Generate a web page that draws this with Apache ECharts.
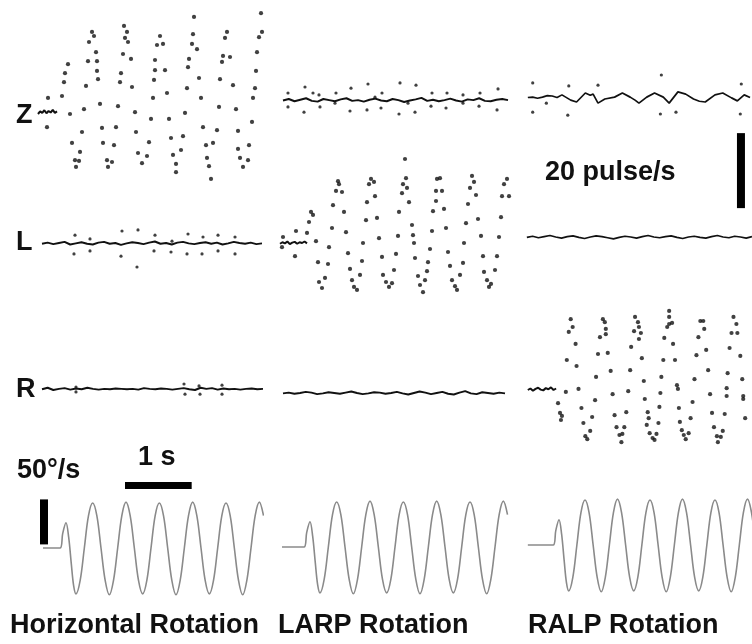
<!DOCTYPE html>
<html>
<head>
<meta charset="utf-8">
<script src="https://cdn.jsdelivr.net/npm/echarts@6/dist/echarts.min.js"></script>
<style>
html, body { margin: 0; padding: 0; background: #fff; }
#chart { width: 752px; height: 644px; }
</style>
</head>
<body>
<div id="chart"></div>
<script>
// ---- data: time in s, firing rate in pulse/s, head velocity in deg/s ----

// Z afferent, horizontal rotation (modulated)
var zBase1 = [21.6, 22.3, 21.9, 22.6, 21.8, 22.4, 22.0, 22.7, 21.9, 22.3];
var zDots1 = [[0.075,25.9],[0.06,18.1],[0.285,26.4],[0.315,30.1],[0.33,32.5],[0.375,34.9],[0.405,21.6],[0.435,13.9],
  [0.555,11.5],[0.48,9.3],[0.54,9.1],[0.495,7.5],[0.585,16.8],[0.615,22.9],[0.645,29.1],[0.675,35.7],[0.69,40.8],
  [0.735,43.5],[0.765,42.4],[0.795,38.1],[0.81,35.7],[0.81,33.1],[0.825,30.9],[0.855,24.3],[0.885,17.9],[0.9,13.9],
  [0.96,9.3],[0.975,7.5],[1.035,8.8],[1.065,13.3],[1.095,18.1],[1.125,23.7],[1.155,30.1],[1.17,32.5],[1.2,37.6],
  [1.23,41.9],[1.215,45.1],[1.26,43.5],[1.275,40.8],[1.32,36.3],[1.335,28.8],[1.38,22.1],[1.395,16.8],[1.425,11.2],
  [1.485,8.5],[1.56,10.4],[1.59,14.1],[1.62,20.3],[1.65,25.9],[1.665,30.7],[1.68,33.3],[1.68,36.0],[1.71,40.0],
  [1.755,42.4],[1.8,40.3],[1.83,33.3],[1.86,27.2],[1.89,20.3],[1.92,15.2],[1.95,10.7],[1.995,8.3],[1.995,6.1],
  [2.07,12.0],[2.1,15.7],[2.13,21.9],[2.16,28.5],[2.175,34.1],[2.19,36.3],[2.235,40.3],[2.25,42.9],[2.265,47.5],
  [2.31,38.9],[2.34,31.2],[2.37,25.9],[2.4,18.1],[2.445,13.3],[2.46,9.9],[2.49,7.7],[2.52,4.3],[2.55,13.9],
  [2.61,17.3],[2.64,23.5],[2.655,30.9],[2.685,35.5],[2.7,37.1],[2.73,41.9],[2.76,43.5],[2.805,36.8],[2.85,29.3],
  [2.895,22.9],[2.925,17.1],[2.925,12.3],[2.955,9.9],[3.0,7.5],[3.075,9.3],[3.09,13.3],[3.135,19.5],[3.15,25.9],
  [3.18,28.5],[3.195,33.1],[3.21,38.1],[3.24,42.1],[3.27,48.5],[3.285,43.5]];

// Z afferent, LARP rotation (flat)
var zFlat2 = [25.2,25.6,25.0,25.4,25.8,25.1,24.9,25.6,25.3,25.0,25.5,25.8,25.1,25.3,24.9,25.4,25.7,25.2,25.0,25.6,
  25.3,24.8,25.2,25.5,25.9,25.1,25.4,25.0,25.3,25.7,25.2,24.9,25.5,25.3,25.8,25.1,25.0,25.4,25.6,25.3];
var zOut2 = [[0.09,27.2],[0.09,23.5],[0.345,28.8],[0.33,22.1],[0.465,27.2],[0.555,26.7],[0.57,23.5],[0.81,27.2],
  [0.795,24.5],[1.035,28.5],[1.02,22.4],[1.29,29.6],[1.275,22.7],[1.395,26.1],[1.5,27.2],[1.485,23.2],[1.77,29.9],
  [1.755,21.6],[1.89,24.5],[2.01,29.3],[1.995,22.1],[2.25,27.2],[2.235,23.7],[2.475,27.2],[2.46,23.2],[2.715,26.7],
  [2.715,24.5],[2.97,27.2],[2.955,23.7],[3.24,28.3],[3.225,22.7]];

// Z afferent, RALP rotation (small modulation)
var zLine3 = [[0.0,26.0],[0.075,26.1],[0.15,25.8],[0.225,26.1],[0.3,26.5],[0.375,26.4],[0.45,26.0],[0.525,26.7],
  [0.66,25.3],[0.75,24.8],[0.885,27.2],[0.96,26.6],[1.005,26.9],[1.08,24.5],[1.185,25.6],[1.335,26.1],[1.455,27.2],
  [1.575,26.1],[1.65,25.3],[1.71,24.5],[1.83,26.1],[1.95,27.2],[2.085,26.1],[2.175,24.5],[2.31,27.5],[2.43,26.9],
  [2.55,25.6],[2.64,25.0],[2.73,24.8],[2.88,26.7],[3.0,27.2],[3.135,25.9],[3.225,25.1],[3.33,26.7],[3.42,26.0]];
var zOut3 = [[0.075,29.9],[0.075,22.1],[0.285,24.5],[0.63,29.1],[0.615,21.3],[1.08,29.3],[2.055,32.0],[2.04,21.6],
  [2.28,22.1],[3.285,29.6],[3.27,21.6]];

// L afferent
var lFlat1 = [15.0,15.3,14.9,15.2,15.5,14.8,15.1,15.4,15.0,14.8,15.3,15.5,15.0,15.2,14.7,15.1,15.4,15.2,14.9,15.3,
  15.6,15.0,15.2,14.8,15.3,15.5,15.1,14.9,15.2,15.4,15.0,15.3,14.8,15.1,15.5,15.2,15.0,15.3,14.9,15.1];
var lOut1 = [[0.48,17.3],[0.465,12.3],[0.705,16.3],[0.705,13.1],[1.185,18.4],[1.17,11.7],[1.425,18.7],[1.41,8.8],
  [1.68,17.3],[1.665,13.1],[1.935,15.7],[1.92,12.8],[2.175,17.6],[2.16,12.3],[2.4,16.8],[2.385,12.3],[2.625,17.3],
  [2.625,13.1],[2.88,16.8],[2.88,12.3]];
var lBase2 = [15.0,15.4,15.1,15.6,14.9,15.3,15.5,15.0,15.4,15.2,15.6,15.1];
var lDots2 = [[0.015,16.8],[0.0,14.1],[0.21,18.4],[0.195,11.7],[0.375,17.9],[0.405,20.8],[0.435,23.5],[0.465,22.7],
  [0.51,15.7],[0.54,10.1],[0.555,4.8],[0.6,3.2],[0.645,5.9],[0.69,9.6],[0.705,14.1],[0.75,19.2],[0.765,25.3],
  [0.81,29.1],[0.84,31.7],[0.855,30.9],[0.9,28.8],[0.93,23.5],[0.96,18.1],[0.99,12.5],[1.02,8.3],[1.05,5.3],
  [1.08,3.5],[1.125,2.7],[1.17,6.7],[1.2,10.4],[1.215,15.2],[1.26,21.3],[1.275,26.1],[1.305,30.9],[1.335,32.3],
  [1.38,31.5],[1.395,27.7],[1.425,21.9],[1.455,16.5],[1.5,11.5],[1.515,6.7],[1.56,4.8],[1.605,3.5],[1.65,4.5],
  [1.68,8.0],[1.71,12.3],[1.74,17.1],[1.755,23.5],[1.8,28.5],[1.815,30.9],[1.86,32.5],[1.845,37.6],[1.875,29.9],
  [1.905,26.1],[1.95,20.0],[1.965,17.3],[1.98,15.2],[1.995,11.2],[2.04,6.4],[2.07,4.0],[2.115,2.1],[2.145,5.3],
  [2.175,7.7],[2.19,10.1],[2.22,13.6],[2.25,18.4],[2.265,23.7],[2.31,26.4],[2.31,29.1],[2.325,32.3],[2.37,32.5],
  [2.4,29.1],[2.43,24.3],[2.46,19.2],[2.49,12.8],[2.52,9.1],[2.55,5.3],[2.595,3.7],[2.625,2.7],[2.67,6.7],
  [2.715,9.9],[2.73,15.2],[2.76,20.5],[2.79,25.6],[2.82,29.9],[2.85,33.1],[2.88,31.5],[2.91,28.0],[2.94,21.6],
  [2.985,17.1],[3.015,11.7],[3.03,7.5],[3.075,5.3],[3.105,3.5],[3.135,4.3],[3.195,8.0],[3.225,11.7],[3.255,16.8],
  [3.285,22.1],[3.3,27.7],[3.33,30.9],[3.375,32.3],[3.405,27.7]];
var lFlat3 = [16.7,17.0,16.6,16.9,17.2,16.8,16.5,16.9,17.1,16.7,16.4,16.8,17.1,16.9,16.6,16.3,16.7,17.0,16.8,16.5,
  16.9,17.2,16.8,16.6,16.9,17.1,16.7,16.4,16.8,17.0,16.7,16.5,16.9,17.2,16.8,16.6,17.0,16.8,16.5,16.9];

// R afferent
var rFlat1 = [16.2,16.6,16.0,16.3,16.5,16.1,16.4,16.2,16.6,16.3,16.1,16.3,16.2,16.4,16.3,16.2,16.3,16.1,16.5,16.3,
  16.2,16.4,16.3,16.1,16.3,16.5,16.2,16.0,16.6,16.3,16.5,16.1,16.4,16.2,16.3,16.1,16.3,16.4,16.2,16.3];
var rOut1 = [[0.495,16.8],[0.495,15.5],[2.115,17.6],[2.13,14.9],[2.34,17.1],[2.355,14.9],[2.685,17.3],[2.685,14.9]];
var rFlat2 = [15.1,15.3,15.0,15.2,15.5,15.3,14.9,15.1,15.4,15.2,15.0,15.3,15.6,15.2,14.9,15.1,15.4,15.3,15.0,15.2,
  15.5,15.1,14.8,15.2,15.6,15.3,14.9,15.2,15.5,15.0,14.8,15.3,15.7,15.1,14.9,15.4,15.2,15.0,15.3,15.1];
var rBase3 = [16.0,16.4,15.8,16.3,16.6,16.1,15.9,16.5,16.2,16.7,16.0,16.4];
var rDots3 = [[0.465,12.5],[0.495,9.9],[0.525,9.1],[0.51,8.0],[0.585,15.5],[0.6,24.0],[0.63,31.5],[0.66,34.9],
  [0.69,32.8],[0.735,28.3],[0.75,22.4],[0.78,16.3],[0.825,11.2],[0.855,7.2],[0.885,3.7],[0.915,2.9],[0.96,5.1],
  [0.99,8.8],[1.035,13.3],[1.05,19.5],[1.08,25.6],[1.11,30.1],[1.155,34.9],[1.185,34.1],[1.2,32.3],[1.2,30.9],
  [1.23,25.9],[1.275,21.1],[1.305,14.9],[1.335,9.3],[1.365,6.1],[1.41,4.0],[1.44,2.1],[1.455,4.3],[1.485,6.1],
  [1.515,10.1],[1.545,15.7],[1.575,21.3],[1.59,27.5],[1.635,31.7],[1.65,35.5],[1.695,34.1],[1.71,32.8],[1.74,31.2],
  [1.71,29.6],[1.755,24.5],[1.785,18.4],[1.8,13.6],[1.845,10.1],[1.86,8.5],[1.83,6.7],[1.875,4.5],[1.92,3.2],
  [1.95,2.7],[1.98,4.3],[2.01,7.2],[2.025,11.5],[2.04,15.2],[2.055,19.5],[2.085,24.0],[2.1,29.9],[2.145,32.8],
  [2.175,33.6],[2.22,33.9],[2.175,35.5],[2.175,37.1],[2.235,28.3],[2.265,24.0],[2.295,17.3],[2.31,16.3],[2.325,11.2],
  [2.34,7.5],[2.37,5.3],[2.4,4.0],[2.43,2.9],[2.475,4.5],[2.505,8.5],[2.535,12.8],[2.565,18.9],[2.595,25.3],
  [2.625,30.1],[2.655,34.4],[2.7,34.4],[2.715,32.3],[2.745,26.7],[2.775,21.3],[2.805,14.9],[2.835,9.9],[2.865,6.1],
  [2.91,3.7],[2.925,2.1],[2.97,3.5],[3.0,5.1],[3.03,9.6],[3.06,14.4],[3.06,16.5],[3.075,20.5],[3.105,27.2],
  [3.135,31.2],[3.165,35.5],[3.21,33.6],[3.225,31.2],[3.27,25.1],[3.3,18.9],[3.315,14.4],[3.315,13.6],[3.345,8.5]];

// head velocity stimulus (time relative to first trough)
var bumpT = [-0.24, -0.2, -0.15, -0.11, -0.07, -0.035];
var bumpV = [0, 16, 28, 12, -18, -42];
var cycleStep = 0.0625;
var cycleV = [-51,-36,0,36,50,36,0,-36, -52,-36,0,36,51,36,0,-36, -51,-36,0,36,50,36,0,-36,
  -52,-36,0,36,51,36,0,-36, -51,-36,0,36,50,36,0,-36, -52,-36,0,36,51,36,0];
var firstTrough = [0.495, 0.57, 0.63];
var stimEnd = [3.25, 3.34, 3.45];

var rowNames = ['Z', 'L', 'R'];
var colNames = ['Horizontal Rotation', 'LARP Rotation', 'RALP Rotation'];
var scaleRate = 20, scaleDeg = 50, scaleSec = 1;

// ---- layout ----
var PX_S = 66.67, PX_RATE = 3.75, PX_DEG = 0.9;
var colX0 = [43, 282, 528];
var T_MIN = -0.1, tMax = [3.29, 3.42, 3.45];
var rowY0 = [195, 300, 450], rowMax = [52, 40, 40];
var stimY0 = [548, 547, 545];

function buildGrids() {
    var grids = [], xAxes = [], yAxes = [];
    for (var r = 0; r < 4; r++) {
        for (var c = 0; c < 3; c++) {
            var gTop, gH, ymin, ymax;
            if (r < 3) { ymin = 0; ymax = rowMax[r]; gH = ymax * PX_RATE; gTop = rowY0[r] - gH; }
            else { ymin = -60; ymax = 60; gH = 120 * PX_DEG; gTop = stimY0[c] - 60 * PX_DEG; }
            grids.push({ left: colX0[c] + T_MIN * PX_S, top: gTop, width: (tMax[c] - T_MIN) * PX_S, height: gH });
            var gi = grids.length - 1;
            xAxes.push({ type: 'value', gridIndex: gi, min: T_MIN, max: tMax[c], show: false });
            yAxes.push({ type: 'value', gridIndex: gi, min: ymin, max: ymax, show: false });
        }
    }
    return { grids: grids, xAxes: xAxes, yAxes: yAxes };
}

function sampled(vals, t0, t1) {
    var step = (t1 - t0) / (vals.length - 1);
    return vals.map(function (v, i) { return [t0 + i * step, v]; });
}
function lineSeries(gi, data, width) {
    return { type: 'line', xAxisIndex: gi, yAxisIndex: gi, data: data, showSymbol: false, silent: true,
        lineStyle: { color: '#111', width: width || 2 } };
}
function dotSeries(gi, data, size) {
    return { type: 'scatter', xAxisIndex: gi, yAxisIndex: gi, data: data, symbolSize: size || 4.2, silent: true,
        itemStyle: { color: '#111' } };
}

var seriesList = [
    lineSeries(0, sampled(zBase1, -0.075, 0.21)), dotSeries(0, zDots1),
    lineSeries(1, sampled(zFlat2, 0.015, 3.39)), dotSeries(1, zOut2, 3.2),
    lineSeries(2, zLine3, 1.7), dotSeries(2, zOut3, 3.2),
    lineSeries(3, sampled(lFlat1, -0.015, 3.285)), dotSeries(3, lOut1, 3.2),
    lineSeries(4, sampled(lBase2, -0.03, 0.375)), dotSeries(4, lDots2),
    lineSeries(5, sampled(lFlat3, -0.015, 3.45), 1.7),
    lineSeries(6, sampled(rFlat1, -0.015, 3.3)), dotSeries(6, rOut1, 3.2),
    lineSeries(7, sampled(rFlat2, 0.015, 3.345)),
    lineSeries(8, sampled(rBase3, 0, 0.435)), dotSeries(8, rDots3)
];

[0, 1, 2].forEach(function (c) {
    var pts = [[0, 0]];
    bumpT.forEach(function (t, i) { pts.push([firstTrough[c] + t, bumpV[i]]); });
    cycleV.forEach(function (v, i) {
        var t = firstTrough[c] + i * cycleStep;
        if (t <= stimEnd[c] + cycleStep) pts.push([t, v]);
    });
    seriesList.push({ type: 'line', xAxisIndex: 9 + c, yAxisIndex: 9 + c, data: pts, showSymbol: false, silent: true,
        smooth: 0.35, lineStyle: { color: '#8a8a8a', width: 1.6 } });
});

var FONT = 'bold 27px "Liberation Sans", Arial, sans-serif';
var layout = buildGrids();
var chart = echarts.init(document.getElementById('chart'));
chart.setOption({
    animation: false,
    backgroundColor: '#fff',
    grid: layout.grids,
    xAxis: layout.xAxes,
    yAxis: layout.yAxes,
    series: seriesList
});

// scale bars and labels, placed through the panel scales
var rateA = chart.convertToPixel({ gridIndex: 2 }, [3.28, -3.5]);
var rateB = chart.convertToPixel({ gridIndex: 2 }, [3.28, -3.5 + scaleRate]);
var degA = chart.convertToPixel({ gridIndex: 9 }, [0.015, 4]);
var degB = chart.convertToPixel({ gridIndex: 9 }, [0.015, 4 + scaleDeg]);
var secA = chart.convertToPixel({ gridIndex: 9 }, [1.23, 69.4]);
var secB = chart.convertToPixel({ gridIndex: 9 }, [1.23 + scaleSec, 69.4]);

function txt(text, x, y) {
    return { type: 'text', silent: true, style: { text: text, x: x, y: y, font: FONT, fill: '#111', verticalAlign: 'middle' } };
}
var rowLabelY = [116, 243, 390];
var colLabelX = [10, 278, 528];
var graphics = [
    { type: 'rect', silent: true, shape: { x: rateA[0] - 4, y: rateB[1], width: 8, height: rateA[1] - rateB[1] }, style: { fill: '#000' } },
    { type: 'rect', silent: true, shape: { x: degA[0] - 4, y: degB[1], width: 8, height: degA[1] - degB[1] }, style: { fill: '#000' } },
    { type: 'rect', silent: true, shape: { x: secA[0], y: secA[1] - 3.5, width: secB[0] - secA[0], height: 7 }, style: { fill: '#000' } }
];
rowNames.forEach(function (n, i) { graphics.push(txt(n, 16, rowLabelY[i])); });
colNames.forEach(function (n, i) { graphics.push(txt(n, colLabelX[i], 626)); });
graphics.push(txt(scaleRate + ' pulse/s', 545, 173));
graphics.push(txt(scaleDeg + '°/s', 17, 471));
graphics.push(txt(scaleSec + ' s', 138, 458));

chart.setOption({ graphic: graphics });
</script>
</body>
</html>
